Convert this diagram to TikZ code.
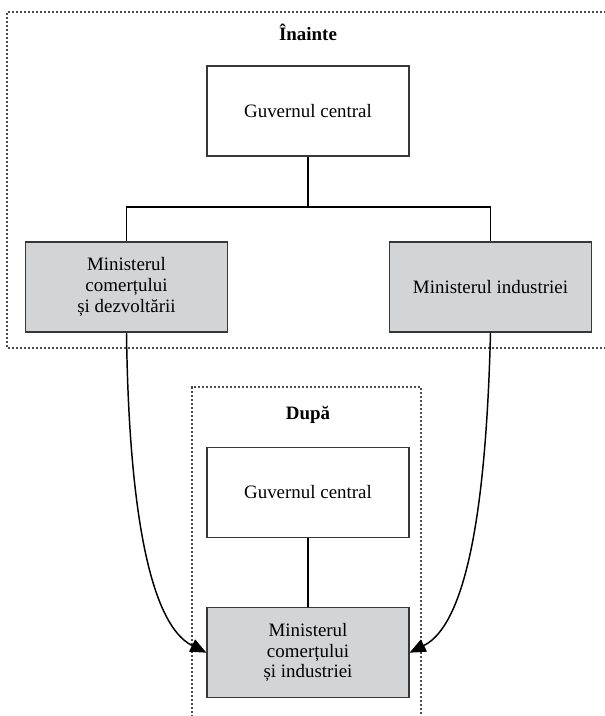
\documentclass[tikz,border=0pt]{standalone}
\usepackage{fontspec}
\setmainfont{Liberation Serif}
\usetikzlibrary{arrows.meta,positioning}
\definecolor{boxgray}{RGB}{211,212,214}
\definecolor{edgegray}{RGB}{55,55,55}
\tikzset{
  unit/.style={draw=edgegray,line width=0.9pt,minimum width=151.5pt,minimum height=67.5pt,
    inner sep=0pt,align=center,font=\fontsize{14.2}{15.5}\selectfont},
  ministry/.style={unit,fill=boxgray},
  frame/.style={draw=black!70,line width=0.8pt,dash pattern=on 1.6pt off 1.4pt},
  heading/.style={font=\fontsize{14.2}{15.5}\selectfont\bfseries},
  link/.style={line width=0.9pt},
  move/.style={line width=1.1pt,-{Triangle[length=12pt,width=10pt]}},
}
\begin{document}
\begin{tikzpicture}[x=0.75pt,y=-0.75pt]
\useasboundingbox (0,0) rectangle (605,716);
% frames
\draw[frame] (606,12) -| (7,348) -- (606,348);
\draw[frame] (192,717) |- (421,387) -- (421,717);
% before
\node[heading] (before) at (308,32) {Înainte};
\node[unit] (gov1) at (308,111) {Guvernul central};
\node[ministry] (trade1) at (126.5,287) {Ministerul\\comerțului\\și dezvoltării};
\node[ministry] (ind1) at (490.5,287) {Ministerul industriei};
\coordinate (split) at (308,207);
\draw[link] (gov1) -- (split);
\draw[link] (trade1.north) |- (split) -| (ind1.north);
% after
\node[heading] (after) at (308,415) {După};
\node[unit] (gov2) at (308,492.5) {Guvernul central};
\node[ministry,below=51.75pt of gov2] (merged) {Ministerul\\comerțului\\și industriei};
\draw[link] (gov2) -- (merged);
% merger arrows
\draw[move] (trade1.south) .. controls +(2,160) and +(-60,-30) .. (merged.west);
\draw[move] (ind1.south) .. controls +(-4,160) and +(60,-30) .. (merged.east);
\end{tikzpicture}
\end{document}
